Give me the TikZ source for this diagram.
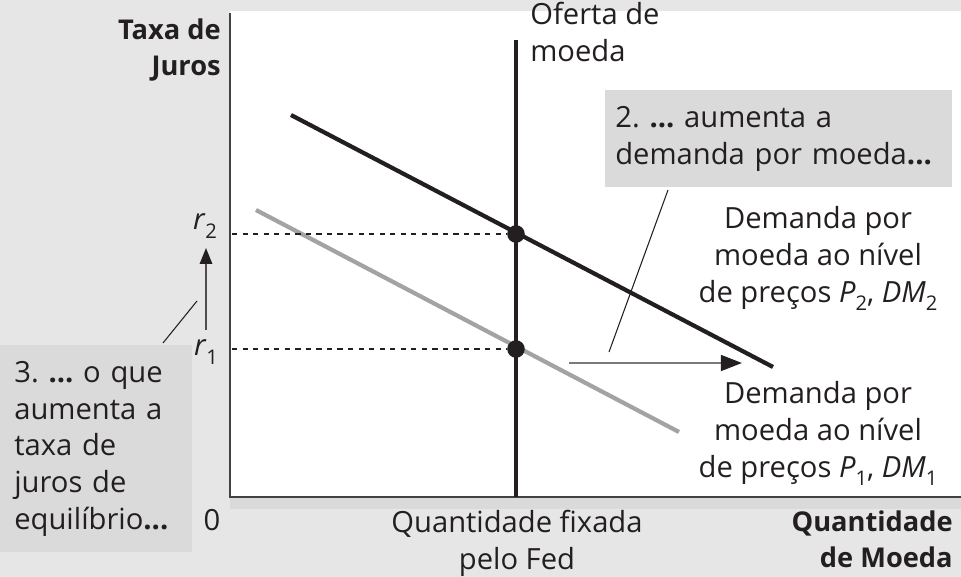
\documentclass[tikz,border=0pt]{standalone}
\usepackage{fontspec}
\setmainfont{Open Sans}
\usetikzlibrary{arrows.meta}
\definecolor{bggray}{HTML}{E6E6E7}
\definecolor{boxgray}{HTML}{DADADB}
\definecolor{ink}{HTML}{231F20}
\definecolor{curvegray}{HTML}{A3A3A5}
\newcommand{\lowsub}[1]{\raisebox{-0.55ex}{\fontsize{11.5}{12}\selectfont #1}}
\frenchspacing

\begin{document}
\begin{tikzpicture}[x=0.02cm,y=-0.02cm,text=ink]
   \useasboundingbox (0,0) rectangle (961,577);
   \fill[bggray] (0,0) rectangle (961,577);
   \fill[white] (230,11) rectangle (961,497);
   \fill[boxgray] (230,497) rectangle (961,509);
   \tikzstyle{lbl}=[font=\fontsize{16.6}{21}\selectfont, inner sep=0pt]
   \tikzstyle{axislbl}=[lbl, font=\fontsize{15.5}{21}\selectfont\bfseries]
   \tikzstyle{dm}=[line width=2.4pt]
   \tikzstyle{eq}=[circle, fill=ink, inner sep=0pt, minimum size=10pt]
   \tikzstyle{note}=[lbl, fill=boxgray, align=left, anchor=north west, inner ysep=0.18cm]
   % axes
   \coordinate (origin) at (230,497);
   \coordinate (ytop) at (230,13);
   \coordinate (xend) at (961,497);
   \draw[ink!85, line width=1pt] (ytop) -- (origin) -- (xend);
   \node[axislbl, align=right, anchor=north east] (ylabel) at (221,18) {Taxa de\\Juros};
   \node[axislbl, align=right, anchor=north east] (xlabel) at (953,510) {Quantidade\\de Moeda};
   \node[lbl] (zero) at (212,520) {0};
   % money supply
   \coordinate (stop) at (516,40);
   \coordinate (sbot) at (516,497);
   \draw[dm, ink] (stop) -- (sbot);
   \node[lbl, align=left, anchor=north west] (supply) at (530,2) {Oferta de\\moeda};
   \node[lbl, align=center, anchor=north] (fixed) at (517,510) {Quantidade fixada\\pelo Fed};
   % demand curves
   \coordinate (d1a) at (256,210);
   \coordinate (d1b) at (679,432);
   \coordinate (d2a) at (291,115);
   \coordinate (d2b) at (773,367);
   \draw[dm, curvegray] (d1a) -- (d1b);
   \draw[dm, ink] (d2a) -- (d2b);
   % equilibria
   \node[eq] (e2) at (516,234) {};
   \node[eq] (e1) at (516,349) {};
   \coordinate (y2) at (232,234);
   \coordinate (y1) at (232,349);
   \draw[dashed, ink, line width=0.6pt] (y2) -- (e2);
   \draw[dashed, ink, line width=0.6pt] (y1) -- (e1);
   \node[lbl] (r2) at (205,226) {\textit{r}\lowsub{2}};
   \node[lbl] (r1) at (206,352) {\textit{r}\lowsub{1}};
   \coordinate (upfrom) at (206,330);
   \coordinate (upto) at (206,248);
   \draw[ink!80, line width=1pt, -{Triangle[length=9pt,width=7pt,fill=ink,color=ink]}] (upfrom) -- (upto);
   % shift of demand
   \coordinate (shfrom) at (569,363);
   \coordinate (shto) at (742,363);
   \draw[ink!60, line width=1.2pt, -{Triangle[length=12pt,width=9pt,fill=ink,color=ink]}] (shfrom) -- (shto);
   \node[lbl, align=center, anchor=north] (dm2lbl) at (818,206) {Demanda por\\moeda ao n\'ivel\\de pre\c cos \textit{P}\lowsub{2}, \textit{DM}\lowsub{2}};
   \node[lbl, align=center, anchor=north] (dm1lbl) at (818,381) {Demanda por\\moeda ao n\'ivel\\de pre\c cos \textit{P}\lowsub{1}, \textit{DM}\lowsub{1}};
   % notes
   \node[note, inner xsep=10*0.02cm, text width=327*0.02cm, minimum height=97*0.02cm] (note2) at (605,90) {2. \textbf{...} aumenta a\\demanda por moeda\textbf{...}};
   \node[note, inner xsep=14*0.02cm, text width=164*0.02cm, minimum height=207*0.02cm] (note3) at (0,345) {3. \textbf{...} o que\\aumenta a\\taxa de\\juros de\\equil\'ibrio\textbf{...}};
   \coordinate (lead2a) at (668,190);
   \coordinate (lead2b) at (609,352);
   \draw[ink, line width=0.6pt] (lead2a) -- (lead2b);
   \coordinate (lead3a) at (163,343);
   \coordinate (lead3b) at (197,301);
   \draw[ink, line width=0.6pt] (lead3a) -- (lead3b);
\end{tikzpicture}
\end{document}
